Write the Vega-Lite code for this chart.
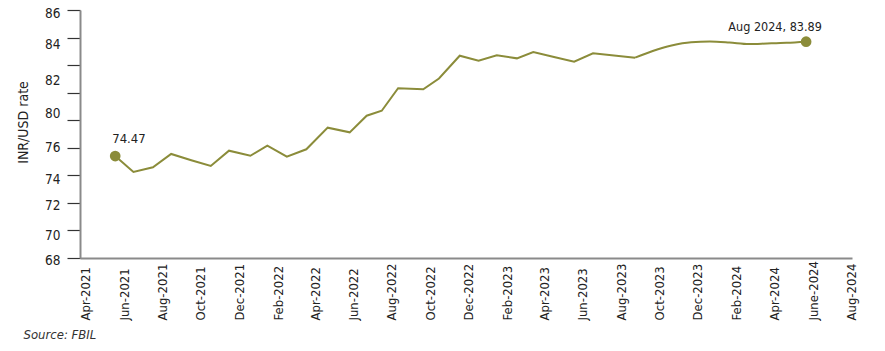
{
  "$schema": "https://vega.github.io/schema/vega-lite/v6.json",
  "width": 772,
  "height": 248,
  "autosize": {"type": "none"},
  "padding": {"left": 80, "top": 10, "right": 33, "bottom": 93},
  "background": "white",
  "config": {
    "view": {"stroke": null},
    "font": "Liberation Sans Narrow, Arial Narrow, DejaVu Sans Condensed, sans-serif"
  },
  "data": {
    "values": [
      {"date": "2021-05-18", "rate": 75.40, "label": "74.47"},
      {"date": "2021-06-16", "rate": 74.24},
      {"date": "2021-07-17", "rate": 74.58},
      {"date": "2021-08-15", "rate": 75.55},
      {"date": "2021-09-16", "rate": 75.10},
      {"date": "2021-10-17", "rate": 74.68},
      {"date": "2021-11-15", "rate": 75.79},
      {"date": "2021-12-19", "rate": 75.42},
      {"date": "2022-01-15", "rate": 76.15},
      {"date": "2022-02-15", "rate": 75.35},
      {"date": "2022-03-18", "rate": 75.89},
      {"date": "2022-04-21", "rate": 77.46},
      {"date": "2022-05-26", "rate": 77.12},
      {"date": "2022-06-22", "rate": 78.33},
      {"date": "2022-07-16", "rate": 78.69},
      {"date": "2022-08-11", "rate": 80.32},
      {"date": "2022-09-20", "rate": 80.24},
      {"date": "2022-10-15", "rate": 81.03},
      {"date": "2022-11-17", "rate": 82.68},
      {"date": "2022-12-17", "rate": 82.32},
      {"date": "2023-01-15", "rate": 82.71},
      {"date": "2023-02-16", "rate": 82.49},
      {"date": "2023-03-14", "rate": 82.95},
      {"date": "2023-04-16", "rate": 82.59},
      {"date": "2023-05-18", "rate": 82.25},
      {"date": "2023-06-17", "rate": 82.86},
      {"date": "2023-08-23", "rate": 82.54},
      {"date": "2023-09-20", "rate": 83.02},
      {"date": "2023-10-20", "rate": 83.42},
      {"date": "2023-11-20", "rate": 83.66},
      {"date": "2023-12-20", "rate": 83.71},
      {"date": "2024-01-20", "rate": 83.64},
      {"date": "2024-02-20", "rate": 83.53},
      {"date": "2024-03-20", "rate": 83.57},
      {"date": "2024-04-20", "rate": 83.62},
      {"date": "2024-05-21", "rate": 83.70, "label": "Aug 2024, 83.89"}
    ]
  },
  "encoding": {
    "x": {
      "field": "date",
      "type": "temporal",
      "scale": {
        "type": "utc",
        "domain": [
          {"year": 2021, "month": 3, "date": 23, "utc": true},
          {"year": 2024, "month": 8, "date": 2, "utc": true}
        ]
      },
      "axis": {
        "values": [
          {"year": 2021, "month": 4, "date": 1, "utc": true},
          {"year": 2021, "month": 6, "date": 1, "utc": true},
          {"year": 2021, "month": 8, "date": 1, "utc": true},
          {"year": 2021, "month": 10, "date": 1, "utc": true},
          {"year": 2021, "month": 12, "date": 1, "utc": true},
          {"year": 2022, "month": 2, "date": 1, "utc": true},
          {"year": 2022, "month": 4, "date": 1, "utc": true},
          {"year": 2022, "month": 6, "date": 1, "utc": true},
          {"year": 2022, "month": 8, "date": 1, "utc": true},
          {"year": 2022, "month": 10, "date": 1, "utc": true},
          {"year": 2022, "month": 12, "date": 1, "utc": true},
          {"year": 2023, "month": 2, "date": 1, "utc": true},
          {"year": 2023, "month": 4, "date": 1, "utc": true},
          {"year": 2023, "month": 6, "date": 1, "utc": true},
          {"year": 2023, "month": 8, "date": 1, "utc": true},
          {"year": 2023, "month": 10, "date": 1, "utc": true},
          {"year": 2023, "month": 12, "date": 1, "utc": true},
          {"year": 2024, "month": 2, "date": 1, "utc": true},
          {"year": 2024, "month": 4, "date": 1, "utc": true},
          {"year": 2024, "month": 6, "date": 1, "utc": true},
          {"year": 2024, "month": 8, "date": 1, "utc": true}
        ],
        "labelExpr": "utcFormat(datum.value, '%m-%Y') == '06-2024' ? 'June-2024' : utcFormat(datum.value, '%b-%Y')",
        "labelAngle": -90,
        "labelAlign": "left",
        "labelBaseline": "middle",
        "labelPadding": 62,
        "labelFontSize": 13,
        "labelColor": "#222222",
        "labelOverlap": false,
        "labelBound": false,
        "labelFlush": false,
        "ticks": false,
        "tickSize": 0,
        "grid": false,
        "domainColor": "#8a8a8a",
        "domainWidth": 2,
        "title": "Source: FBIL",
        "titleX": -57,
        "titleY": 80,
        "titleAlign": "left",
        "titleBaseline": "alphabetic",
        "titleAnchor": null,
        "titleFontStyle": "italic",
        "titleFontWeight": "normal",
        "titleFontSize": 13,
        "titleColor": "#333333"
      }
    },
    "y": {
      "field": "rate",
      "type": "quantitative",
      "scale": {"domain": [68, 86], "nice": false, "zero": false},
      "axis": {
        "values": [68, 70, 72, 74, 76, 78, 80, 82, 84, 86],
        "labelExpr": "datum.value == 78 ? '' : datum.label",
        "labelOffset": {
          "condition": [
            {"test": "datum.value == 86", "value": 3},
            {"test": "datum.value == 84", "value": 7},
            {"test": "datum.value == 82", "value": 15},
            {"test": "datum.value == 80", "value": 21},
            {"test": "datum.value == 76", "value": 0},
            {"test": "datum.value == 74", "value": 4},
            {"test": "datum.value == 72", "value": 3},
            {"test": "datum.value == 70", "value": 5}
          ],
          "value": 2
        },
        "tickSize": 13,
        "tickColor": "#333333",
        "tickWidth": 1.2,
        "labelPadding": 7,
        "labelFontSize": 13.5,
        "labelColor": "#222222",
        "grid": false,
        "domainColor": "#8a8a8a",
        "domainWidth": 2,
        "title": "INR/USD rate",
        "titleX": -57,
        "titleY": 112,
        "titleAngle": 270,
        "titleAlign": "center",
        "titleBaseline": "middle",
        "titleFontWeight": "normal",
        "titleFontSize": 14,
        "titleColor": "#222222"
      }
    }
  },
  "layer": [
    {
      "transform": [{"filter": "datum.date <= utc(2023, 7, 25)"}],
      "mark": {"type": "line", "color": "#8B8C3A", "strokeWidth": 2}
    },
    {
      "transform": [{"filter": "datum.date >= utc(2023, 7, 20)"}],
      "mark": {"type": "line", "interpolate": "monotone", "color": "#8B8C3A", "strokeWidth": 2}
    },
    {
      "transform": [{"filter": "datum.label != null"}],
      "mark": {"type": "circle", "size": 115, "color": "#8B8C3A", "opacity": 1}
    },
    {
      "transform": [{"filter": "datum.label == '74.47'"}],
      "mark": {"type": "text", "align": "left", "baseline": "alphabetic", "dx": -3, "dy": -13, "fontSize": 13, "color": "#222222"},
      "encoding": {"text": {"field": "label"}}
    },
    {
      "transform": [{"filter": "datum.label == 'Aug 2024, 83.89'"}],
      "mark": {"type": "text", "align": "center", "baseline": "alphabetic", "dx": -31, "dy": -11, "fontSize": 12.5, "color": "#222222"},
      "encoding": {"text": {"field": "label"}}
    }
  ]
}
